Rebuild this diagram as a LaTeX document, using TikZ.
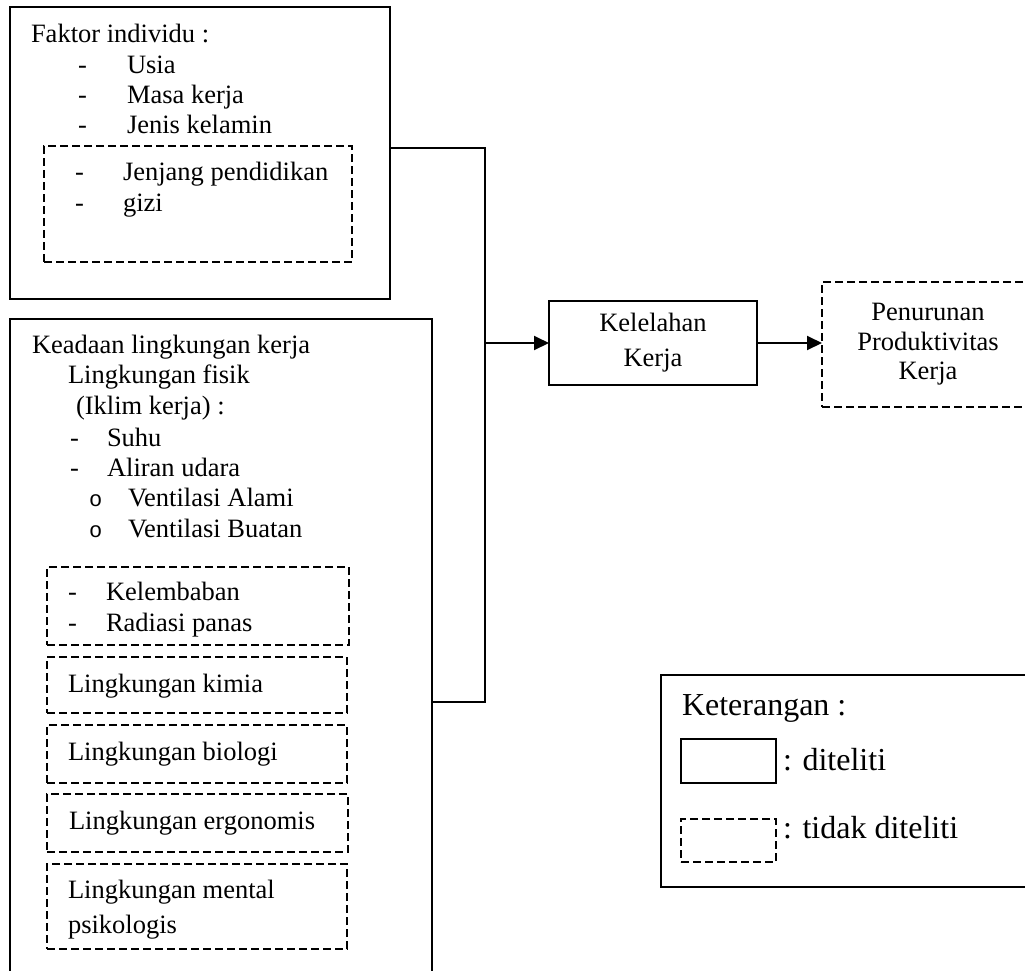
\documentclass[tikz,border=0pt]{standalone}
\usepackage{fontspec}
\setmainfont{Liberation Serif}
\newfontfamily\bulletfont{Liberation Mono}
\usepackage{tikz}
\usetikzlibrary{arrows.meta,positioning}

\begin{document}
\begin{tikzpicture}[
		x=1pt, y=-1pt,
		every node/.style={inner sep=0pt, outer sep=0pt},
		txt/.style={anchor=base west, font=\fontsize{26.5}{30.5}\selectfont},
		bullet/.style={anchor=base west, font=\fontsize{22}{30.5}\bulletfont},
		bigtxt/.style={anchor=base west, font=\fontsize{32}{36}\selectfont},
		solidbox/.style={draw, line width=1.5pt, anchor=north west},
		dashbox/.style={draw, line width=1.7pt, dash pattern=on 8pt off 4pt, anchor=north west},
		link/.style={line width=1.9pt},
		>={Triangle[length=15pt,width=14pt]}
		]

		\useasboundingbox (0,0) rectangle (1025,970);
		\clip (0,0) rectangle (1025,970);

		% --- Faktor individu ---
		\node[solidbox, line width=2.3pt, minimum width=380pt, minimum height=292pt] (indiv) at (10,7) {};
		\node[dashbox, minimum width=308pt, minimum height=116pt] (indivx) at (44,146) {};
		\node[txt] (faktor) at (31,42) {Faktor individu :};
		\foreach \i/\t/\y in {1/Usia/73, 2/Masa kerja/103, 3/Jenis kelamin/133} {
			\node[txt] (fd\i) at (78,\y) {-};
			\node[txt] (fi\i) at (127,\y) {\t};
		}
		\foreach \i/\t/\y in {4/Jenjang pendidikan/180, 5/gizi/211} {
			\node[txt] (fd\i) at (75,\y) {-};
			\node[txt] (fi\i) at (123,\y) {\t};
		}

		% --- Keadaan lingkungan kerja ---
		\node[solidbox, minimum width=422pt, minimum height=700pt] (envi) at (10,319) {};
		\node[txt] (keadaan) at (32,353) {Keadaan lingkungan kerja};
		\node[txt] (fisik) at (68,383) {Lingkungan fisik};
		\node[txt] (iklim) at (76,414) {(Iklim kerja) :};
		\node[txt] (ed1) at (70,446) {-};
		\node[txt] (suhu) at (107,446) {Suhu};
		\node[txt] (ed2) at (70,476) {-};
		\node[txt] (aliran) at (107,476) {Aliran udara};
		\node[bullet] (eo1) at (89,506) {o};
		\node[txt] (alami) at (128,506) {Ventilasi Alami};
		\node[bullet] (eo2) at (89,537) {o};
		\node[txt] (buatan) at (128,537) {Ventilasi Buatan};

		\node[dashbox, minimum width=302pt, minimum height=78pt] (lembab) at (47,567) {};
		\node[txt] (ed3) at (68,600) {-};
		\node[txt] (kelembaban) at (106,600) {Kelembaban};
		\node[txt] (ed4) at (68,631) {-};
		\node[txt] (radiasi) at (106,631) {Radiasi panas};

		\node[dashbox, minimum width=300pt, minimum height=56pt] (kimia) at (47,657) {};
		\node[txt] (kimiat) at (68,692) {Lingkungan kimia};
		\node[dashbox, minimum width=300pt, minimum height=58pt] (bio) at (47,725) {};
		\node[txt] (biot) at (68,760) {Lingkungan biologi};
		\node[dashbox, minimum width=301pt, minimum height=58pt] (ergo) at (47,794) {};
		\node[txt] (ergot) at (69,829) {Lingkungan ergonomis};
		\node[dashbox, minimum width=300pt, minimum height=85pt] (mental) at (47,864) {};
		\node[txt] (mentalt) at (68,898) {Lingkungan mental};
		\node[txt] (psiko) at (68,933) {psikologis};

		% --- Kelelahan & produktivitas ---
		\node[solidbox, minimum width=208pt, minimum height=84pt, align=center,
			font=\fontsize{26.5}{35}\selectfont] (kel) at (549,301) {Kelelahan\\Kerja};
		\node[dashbox, minimum width=212pt, minimum height=125pt, align=center,
			font=\fontsize{26.5}{29.5}\selectfont] (pen) at (822,282) {Penurunan\\Produktivitas\\Kerja};

		% --- Garis penghubung ---
		\coordinate (j1) at (485,148);
		\coordinate (j2) at (485,702);
		\draw[link] (indiv.east |- j1) -- (j1) -- (j2) -- (envi.east |- j2);
		\draw[link,->] (kel.west -| j1) -- (kel.west);
		\draw[link,->] (kel.east) -- (kel.east -| pen.west);

		% --- Keterangan ---
		\node[solidbox, minimum width=380pt, minimum height=212pt] (leg) at (661,675) {};
		\node[bigtxt] (legt) at (682,715) {Keterangan :};
		\node[solidbox, minimum width=95pt, minimum height=44pt] (legsolid) at (681,739) {};
		\node[bigtxt] (legsolidt) at (783,770) {: diteliti};
		\node[dashbox, minimum width=95pt, minimum height=43pt] (legdash) at (681,819) {};
		\node[bigtxt] (legdasht) at (783,838) {: tidak diteliti};

	\end{tikzpicture}
\end{document}
